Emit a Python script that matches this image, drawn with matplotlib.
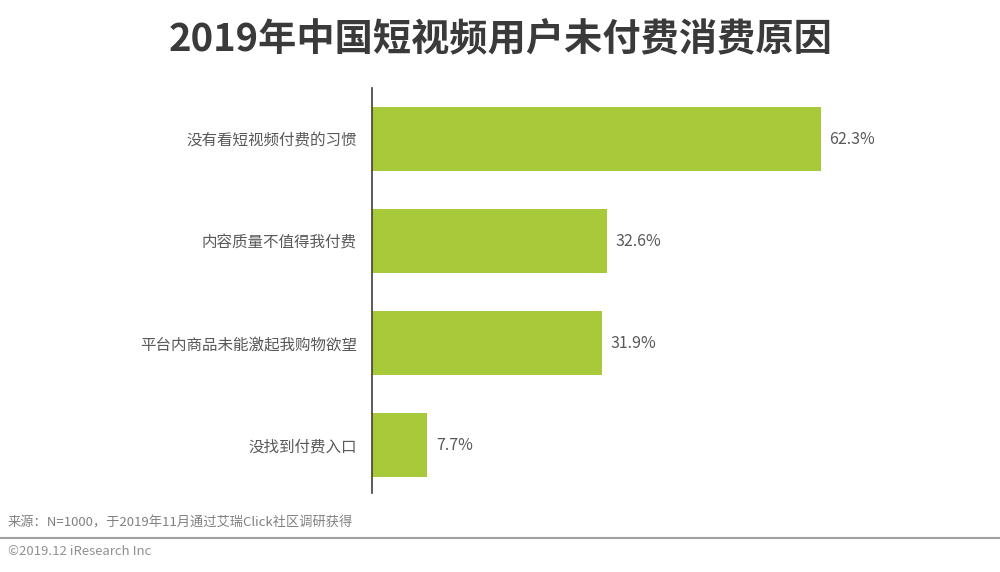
import matplotlib.pyplot as plt
import numpy as np

plt.rcParams['font.family'] = ['Noto Sans CJK SC', 'DejaVu Sans']

# data
reasons = ['没有看短视频付费的习惯', '内容质量不值得我付费', '平台内商品未能激起我购物欲望', '没找到付费入口']
shares = [62.3, 32.6, 31.9, 7.7]

bar_color = '#a8c93a'
text_color = '#595959'

fig = plt.figure(figsize=(10, 5.72), dpi=100)
ax = fig.add_axes([0.372, 0.138, 0.576, 0.708])

y = np.arange(len(reasons))
ax.barh(y, shares, height=0.62, color=bar_color)
for yi, v in zip(y, shares):
    ax.text(v + 1.2, yi, f'{v}%', va='center', ha='left', fontsize=11.5, color=text_color)

ax.set_xlim(0, 80)
ax.set_ylim(3.47, -0.5)
ax.set_yticks(y)
ax.set_yticklabels(reasons, fontsize=11.2, color=text_color)
ax.tick_params(axis='y', length=0, pad=11)
ax.set_xticks([])
for s in ['top', 'right', 'bottom']:
    ax.spines[s].set_visible(False)
ax.spines['left'].set_color('#404040')
ax.spines['left'].set_linewidth(1.2)

fig.text(0.501, 0.931, '2019年中国短视频用户未付费消费原因', ha='center', va='center',
         fontsize=27.5, fontweight='bold', color='#3a3a3a')

fig.text(0.008, 0.085, '来源：N=1000，于2019年11月通过艾瑞Click社区调研获得', ha='left', va='center',
         fontsize=9.5, color='#808080')
fig.add_artist(plt.Line2D([0, 1], [0.06, 0.06], transform=fig.transFigure, color='#a0a0a0', lw=1.5))
fig.text(0.008, 0.035, '©2019.12 iResearch Inc', ha='left', va='center', fontsize=9.5, color='#909090')

fig.savefig('out.png', dpi=100, facecolor='white')
